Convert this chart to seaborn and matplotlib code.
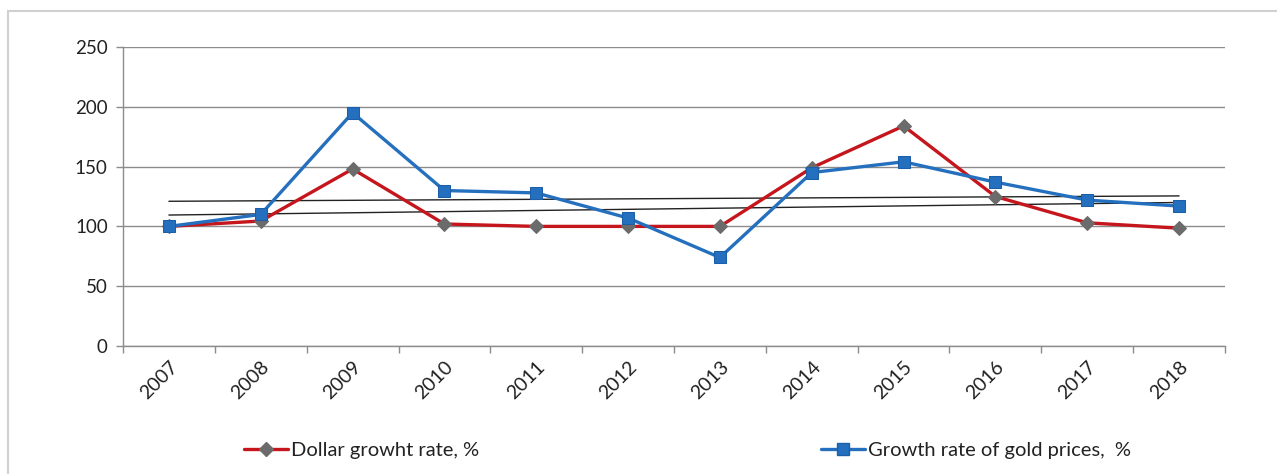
import numpy as np
import pandas as pd
import matplotlib
matplotlib.use("Agg")
import matplotlib.pyplot as plt
import seaborn as sns
from matplotlib.lines import Line2D

# ── Data ──────────────────────────────────────────────────────────
years = ["2007", "2008", "2009", "2010", "2011", "2012",
         "2013", "2014", "2015", "2016", "2017", "2018"]
dollar_rate = [100, 104.5, 148, 102, 100, 100, 100, 149, 184, 125, 103, 98.5]
gold_rate = [100, 110, 195, 130, 128, 107, 74, 145, 154, 137, 122, 117]
# linear trendline endpoints (2007, 2018)
trend_upper = [121, 125.5]
trend_lower = [109.5, 120]

DOLLAR_LABEL = "Dollar growht rate, %"
GOLD_LABEL = "Growth rate of gold prices,  %"
RED = "#C4161C"
BLUE = "#2470BE"
MARKER_GRAY = "#6B6B6B"
GRID = "#8C8C8C"

sns.set_theme(style="white")
plt.rcParams["font.family"] = ["Lato", "DejaVu Sans"]

# category positions (Excel-style category axis)
df = pd.DataFrame({"year": years, "pos": np.arange(len(years)),
                   "dollar": dollar_rate, "gold": gold_rate})

fig = plt.figure(figsize=(12.77, 4.74), dpi=100)
ax = fig.add_axes([123 / 1277, 1 - 346 / 474, 1102 / 1277, 299 / 474])

# ── Trendlines ────────────────────────────────────────────────────
ends = [df["pos"].iloc[0], df["pos"].iloc[-1]]
for tr in (trend_upper, trend_lower):
    sns.lineplot(x=ends, y=tr, color="#222222", linewidth=1.0, ax=ax,
                 sort=False)

# ── Series ────────────────────────────────────────────────────────
sns.lineplot(data=df, x="pos", y="dollar", color=RED, linewidth=2.4,
             marker="D", markersize=7, markerfacecolor=MARKER_GRAY,
             markeredgecolor=MARKER_GRAY, ax=ax, sort=False, zorder=3)
sns.lineplot(data=df, x="pos", y="gold", color=BLUE, linewidth=2.4,
             marker="s", markersize=8, markerfacecolor=BLUE,
             markeredgecolor="#1C5FA8", ax=ax, sort=False, zorder=4)

# ── Axes styling ──────────────────────────────────────────────────
ax.set_xlim(-0.5, len(years) - 0.5)
ax.set_ylim(0, 250)
ax.set_yticks(np.arange(0, 251, 50))
ax.yaxis.grid(True, color=GRID, linewidth=1.0)
ax.set_axisbelow(True)
for side in ("top", "right"):
    ax.spines[side].set_visible(False)
for side in ("left", "bottom"):
    ax.spines[side].set_color(GRID)
    ax.spines[side].set_linewidth(1.0)

ax.set_xticks(df["pos"])
ax.set_xticklabels(years, rotation=45, ha="right", va="top",
                   rotation_mode="anchor", fontsize=14, color="#222222")
ax.set_xticks(np.arange(-0.5, len(years), 1), minor=True)
ax.tick_params(axis="x", which="major", length=0, pad=9)
ax.tick_params(axis="x", which="minor", length=5, width=1, color=GRID,
               direction="out", bottom=True)
ax.tick_params(axis="y", length=5, width=1, color=GRID, direction="out",
               left=True, labelsize=13.5, labelcolor="#222222", pad=6)
ax.set_xlabel("")
ax.set_ylabel("")

# ── Legend ────────────────────────────────────────────────────────
h_dollar = Line2D([0], [0], color=RED, linewidth=2.4, marker="D",
                  markersize=7, markerfacecolor=MARKER_GRAY,
                  markeredgecolor=MARKER_GRAY)
h_gold = Line2D([0], [0], color=BLUE, linewidth=2.4, marker="s",
                markersize=8, markerfacecolor=BLUE, markeredgecolor="#1C5FA8")
for handle, label, xpos in ((h_dollar, DOLLAR_LABEL, 244 / 1277),
                            (h_gold, GOLD_LABEL, 821 / 1277)):
    leg = fig.legend(handles=[handle], labels=[label], loc="center left",
                     bbox_to_anchor=(xpos, 1 - 450 / 474), frameon=False,
                     fontsize=14.5, handlelength=2.2, handletextpad=0.15,
                     borderpad=0, borderaxespad=0)
    for t in leg.get_texts():
        t.set_color("#222222")

# ── Outer frame ───────────────────────────────────────────────────
fig.add_artist(Line2D([8 / 1277, 8 / 1277], [0, 1 - 11 / 474],
                      color="#D0D0D0", linewidth=1.5))
fig.add_artist(Line2D([8 / 1277, 1], [1 - 11 / 474, 1 - 11 / 474],
                      color="#D0D0D0", linewidth=1.5))

fig.savefig("out.png", dpi=100)
plt.close(fig)
